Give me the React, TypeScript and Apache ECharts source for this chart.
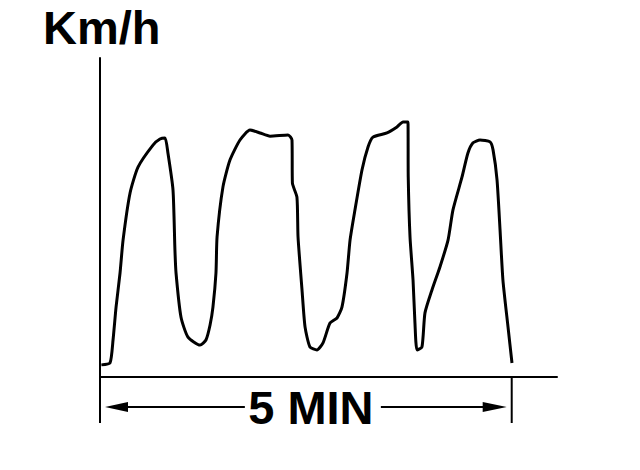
import React, { useEffect, useRef } from "react";
import * as echarts from "echarts";

// time in seconds (5 MIN = 300 s)
const timeSec = [
  1, 7.3, 9.5, 11.7, 14.6, 16.8, 21.9, 27.7, 38.6, 43.7, 47.4, 49.5, 53.2, 54.6, 55.4, 59.0, 64.1, 72.9, 77.2,
  80.2, 82.3, 84.5, 85.3, 89.6, 94.7, 102.0, 109.3, 116.6, 123.9, 137.0, 139.9, 140.2, 143.5, 144.3, 147.2,
  149.4, 153.0, 158.1, 162.5, 167.6, 172.7, 176.3, 180.0, 182.2, 185.8, 190.9, 195.3, 198.9, 209.1, 216.4,
  220.8, 224.4, 224.6, 225.9, 228.1, 229.5, 231.0, 234.6, 236.8, 241.9, 247.7, 253.6, 257.2, 263.8, 268.1,
  271.8, 276.9, 284.2, 286.4, 289.3, 291.5, 293.6, 297.3, 300.2,
];
// speed, relative units (0..100)
const speed = [
  3.8, 4.4, 11.6, 21.9, 32.6, 42.9, 57.7, 65.8, 72.7, 74.6, 74.9, 70.2, 58.6, 39.8, 32.6, 18.8, 12.5, 10.0, 11.6,
  16.3, 21.9, 32.6, 43.9, 59.6, 68.0, 74.3, 77.4, 76.5, 75.5, 75.9, 74.3, 60.8, 56.4, 43.9, 27.3,
  15.7, 9.4, 8.5, 10.7, 16.9, 18.5, 21.9, 32.6, 42.9, 52.4, 64.9, 72.1, 75.2, 76.5, 78.4,
  79.9, 79.9, 62.7, 43.9, 30.4, 16.9, 8.5, 9.4, 20.1, 27.3, 34.5, 42.9, 52.4, 62.7, 70.2,
  73.4, 74.3, 73.7, 71.2, 61.8, 46.1, 30.4, 15.7, 4.4,
];
const yLabel = "Km/h";
const spanLabel = "5 MIN";
const spanStart = 0;
const spanEnd = 300;

export default function App() {
  const ref = useRef<HTMLDivElement>(null);
  useEffect(() => {
    if (!ref.current) return;
    const chart = echarts.init(ref.current, null, { renderer: "svg" });
    const font = "Liberation Sans, Arial, Helvetica, sans-serif";
    chart.setOption({
      animation: false,
      backgroundColor: "#ffffff",
      grid: { left: 100, right: 83, top: 58, bottom: 93 },
      xAxis: {
        type: "value",
        min: 0,
        max: 333,
        axisLine: { show: true, onZero: false, lineStyle: { color: "#000", width: 2 } },
        axisTick: { show: false },
        axisLabel: { show: false },
        splitLine: { show: false },
      },
      yAxis: {
        type: "value",
        min: 0,
        max: 100,
        axisLine: { show: true, lineStyle: { color: "#000", width: 2 } },
        axisTick: { show: false },
        axisLabel: { show: false },
        splitLine: { show: false },
      },
      series: [
        {
          type: "line",
          data: timeSec.map((t, i) => [t, speed[i]]),
          showSymbol: false,
          smooth: 0.2,
          lineStyle: { color: "#000", width: 3 },
        },
      ],
    });
    const p0 = chart.convertToPixel({ gridIndex: 0 }, [spanStart, 0]) as number[];
    const p1 = chart.convertToPixel({ gridIndex: 0 }, [spanEnd, 0]) as number[];
    const baseY = p0[1];
    const tickBottom = baseY + 46;
    const ay = baseY + 30;
    const lx = p0[0] + 5;
    const rx = p1[0] - 5;
    const cx = (p0[0] + p1[0]) / 2 + 5;
    chart.setOption({
      graphic: [
        {
          type: "text",
          left: 43,
          top: 4,
          style: { text: yLabel, font: `bold 47px ${font}`, fill: "#000" },
        },
        { type: "line", shape: { x1: p0[0], y1: baseY, x2: p0[0], y2: tickBottom }, style: { stroke: "#000", lineWidth: 2 } },
        { type: "line", shape: { x1: p1[0], y1: baseY, x2: p1[0], y2: tickBottom }, style: { stroke: "#000", lineWidth: 2 } },
        { type: "line", shape: { x1: lx + 15, y1: ay, x2: cx - 66, y2: ay }, style: { stroke: "#000", lineWidth: 2 } },
        { type: "line", shape: { x1: cx + 70, y1: ay, x2: rx - 15, y2: ay }, style: { stroke: "#000", lineWidth: 2 } },
        { type: "polygon", shape: { points: [[lx, ay], [lx + 23, ay - 5], [lx + 23, ay + 5]] }, style: { fill: "#000" } },
        { type: "polygon", shape: { points: [[rx, ay], [rx - 24, ay - 5], [rx - 24, ay + 5]] }, style: { fill: "#000" } },
        {
          type: "text",
          x: cx,
          y: ay,
          style: { text: spanLabel, font: `bold 47px ${font}`, fill: "#000", align: "center", verticalAlign: "middle" },
        },
      ],
    });
    return () => chart.dispose();
  }, []);
  return <div ref={ref} style={{ position: "absolute", left: 0, top: 0, width: 640, height: 470 }} />;
}
